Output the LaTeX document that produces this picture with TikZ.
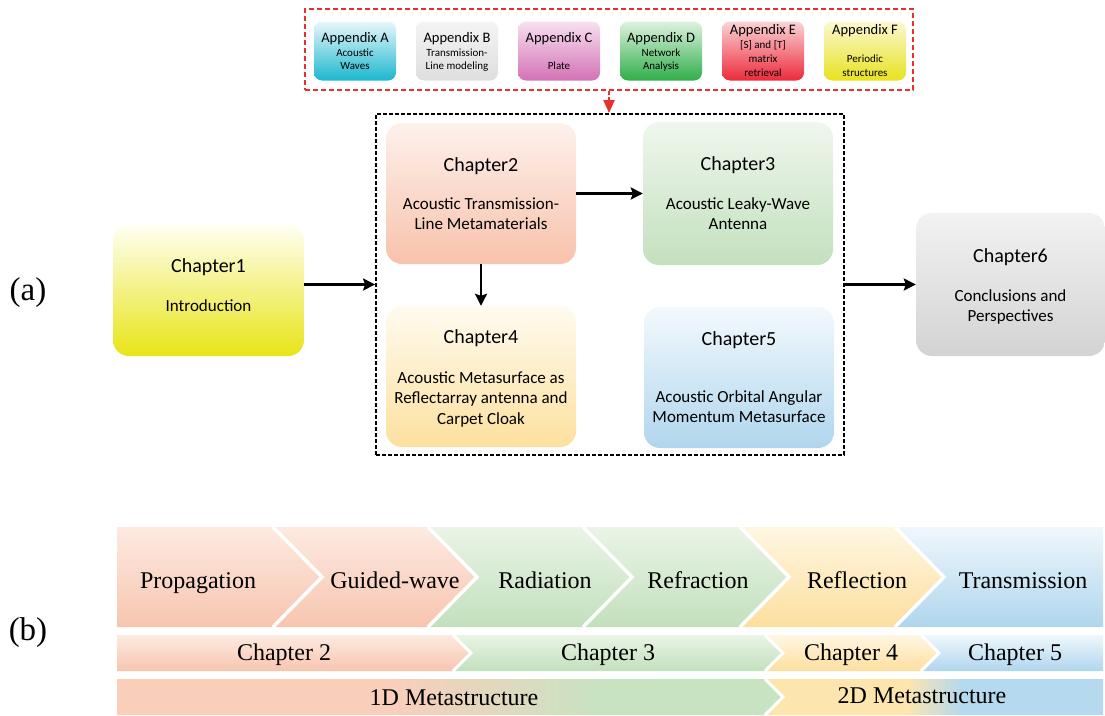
\documentclass[tikz,border=0pt]{standalone}
\usepackage{fontspec}
\setmainfont{Carlito}
\newfontfamily\tnr{Liberation Serif}
\usetikzlibrary{arrows.meta}
% part (a) colours
\definecolor{cAt}{HTML}{FFFFF2}\definecolor{cAb}{HTML}{E8E416}
\definecolor{cBt}{HTML}{FDF1EC}\definecolor{cBb}{HTML}{F8C2AB}
\definecolor{cCt}{HTML}{EFF7EE}\definecolor{cCb}{HTML}{C3E0BD}
\definecolor{cDt}{HTML}{FFFBF0}\definecolor{cDb}{HTML}{FDE09E}
\definecolor{cEt}{HTML}{F3F9FD}\definecolor{cEb}{HTML}{B0D6ED}
\definecolor{cFt}{HTML}{F2F2F2}\definecolor{cFb}{HTML}{D3D3D3}
% appendix colours
\definecolor{aAt}{HTML}{E8F7FA}\definecolor{aAb}{HTML}{1BB7CF}
\definecolor{aBt}{HTML}{F4F4F4}\definecolor{aBb}{HTML}{DEDEDE}
\definecolor{aCt}{HTML}{F7E0EF}\definecolor{aCb}{HTML}{D471B6}
\definecolor{aDt}{HTML}{DDF2DF}\definecolor{aDb}{HTML}{2FAE48}
\definecolor{aEt}{HTML}{FAD3D6}\definecolor{aEb}{HTML}{ED2A3A}
\definecolor{aFt}{HTML}{FBF8D3}\definecolor{aFb}{HTML}{E8E21E}
\definecolor{redd}{HTML}{E8302E}
% part (b) colours
\definecolor{salT}{HTML}{FDEAE1}\definecolor{salB}{HTML}{F7C5AF}
\definecolor{grnT}{HTML}{EAF4E7}\definecolor{grnB}{HTML}{C2E0BC}
\definecolor{yelT}{HTML}{FFF6E3}\definecolor{yelB}{HTML}{FCDF9E}
\definecolor{bluT}{HTML}{EFF7FC}\definecolor{bluB}{HTML}{AFD6ED}
\definecolor{rsal}{HTML}{F9CEBB}\definecolor{rgrn}{HTML}{C8E3C2}
\definecolor{ryel}{HTML}{FDE5AE}\definecolor{rblu}{HTML}{B5D9EE}
\pgfdeclarehorizontalshading{oneD}{100bp}{color(0bp)=(rsal); color(46bp)=(rsal); color(61bp)=(rgrn); color(100bp)=(rgrn)}
\pgfdeclarehorizontalshading{twoD}{100bp}{color(0bp)=(ryel); color(46bp)=(ryel); color(54bp)=(rblu); color(100bp)=(rblu)}
\begin{document}
\begin{tikzpicture}[x=1pt,y=-1pt,
  chbox/.style={rounded corners=16pt, minimum width=190pt, minimum height=141pt, inner sep=0pt},
  apbox/.style={rounded corners=8pt, minimum width=82pt, minimum height=59pt, inner sep=0pt},
  ttl/.style={font=\fontsize{20}{24}\selectfont, inner sep=0pt, anchor=base},
  sub/.style={font=\fontsize{17}{20}\selectfont, inner sep=0pt, anchor=base},
  apt/.style={font=\fontsize{14.5}{17}\selectfont, inner sep=0pt, anchor=base},
  aps/.style={font=\fontsize{11}{13}\selectfont, inner sep=0pt, anchor=base},
  blab/.style={font=\tnr\fontsize{24}{28}\selectfont, inner sep=0pt, anchor=base},
  plab/.style={font=\tnr\fontsize{33}{38}\selectfont, inner sep=0pt, anchor=base},
  arr/.style={line width=2.5pt, -{Stealth[length=12pt,width=12pt,inset=2pt]}},
  sepline/.style={white, line width=3.5pt},
]
\clip (0,0) rectangle (1105,715);
\useasboundingbox (0,0) rectangle (1105,715);

% ---------- appendices ----------
\node[draw=redd, dashed, dash pattern=on 5pt off 3pt, line width=2pt, minimum width=608pt, minimum height=81pt, inner sep=0pt] (app) at (609,49.5) {};
\node[apbox, top color=aAt, bottom color=aAb] (apA) at (355,51) {};
\node[apbox, top color=aBt, bottom color=aBb] (apB) at (457,51) {};
\node[apbox, top color=aCt, bottom color=aCb] (apC) at (559,51) {};
\node[apbox, top color=aDt, bottom color=aDb] (apD) at (661,51) {};
\node[apbox, top color=aEt, bottom color=aEb] (apE) at (763,51) {};
\node[apbox, top color=aFt, bottom color=aFb] (apF) at (865,51) {};
\node[apt] (tA) at (355,42) {Appendix A};
\node[aps] (sA1) at (355,56) {Acoustic};
\node[aps] (sA2) at (355,69.5) {Waves};
\node[apt] (tB) at (457,42) {Appendix B};
\node[aps] (sB1) at (457,56) {Transmission-};
\node[aps] (sB2) at (457,69.5) {Line modeling};
\node[apt] (tC) at (559,42) {Appendix C};
\node[aps] (sC1) at (559,69.5) {Plate};
\node[apt] (tD) at (661,42) {Appendix D};
\node[aps] (sD1) at (661,56) {Network};
\node[aps] (sD2) at (661,69.5) {Analysis};
\node[apt] (tE) at (763,34) {Appendix E};
\node[aps] (sE1) at (763,48.5) {[S] and [T]};
\node[aps] (sE2) at (763,62.5) {matrix};
\node[aps] (sE3) at (763,76) {retrieval};
\node[apt] (tF) at (865,34) {Appendix F};
\node[aps] (sF1) at (865,62.5) {Periodic};
\node[aps] (sF2) at (865,76) {structures};

% ---------- chapters ----------
\node[draw, dashed, dash pattern=on 4pt off 2pt, line width=1.8pt, minimum width=468pt, minimum height=341pt, inner sep=0pt] (grp) at (610,284.5) {};
\draw[redd, line width=2pt, dash pattern=on 4pt off 2pt, -{Triangle[length=13pt,width=11pt]}] (app.south) -- (app.south |- grp.north);

\node[chbox, minimum width=191pt, minimum height=131pt, top color=cAt, bottom color=cAb] (ch1) at (208.5,290.5) {};
\node[chbox, top color=cBt, bottom color=cBb] (ch2) at (481,193.5) {};
\node[chbox, minimum height=143pt, top color=cCt, bottom color=cCb] (ch3) at (738,193.5) {};
\node[chbox, top color=cDt, bottom color=cDb] (ch4) at (481,376.5) {};
\node[chbox, top color=cEt, bottom color=cEb] (ch5) at (739,377.5) {};
\node[chbox, minimum width=189pt, minimum height=143pt, top color=cFt, bottom color=cFb] (ch6) at (1010.5,284.5) {};

\node[ttl] (t1) at (208.5,272) {Chapter1};
\node[sub] (s11) at (208.5,311) {Introduction};
\node[ttl] (t2) at (481,171) {Chapter2};
\node[sub] (s21) at (481,209) {Acoustic Transmission-};
\node[sub] (s22) at (481,229.5) {Line Metamaterials};
\node[ttl] (t3) at (738,170) {Chapter3};
\node[sub] (s31) at (738,209) {Acoustic Leaky-Wave};
\node[sub] (s32) at (738,229.5) {Antenna};
\node[ttl] (t4) at (481,343) {Chapter4};
\node[sub] (s41) at (481,383) {Acoustic Metasurface as};
\node[sub] (s42) at (481,403.5) {Reflectarray antenna and};
\node[sub] (s43) at (481,424) {Carpet Cloak};
\node[ttl] (t5) at (739,345) {Chapter5};
\node[sub] (s51) at (739,402) {Acoustic Orbital Angular};
\node[sub] (s52) at (739,422.5) {Momentum Metasurface};
\node[ttl] (t6) at (1010.5,262) {Chapter6};
\node[sub] (s61) at (1010.5,301) {Conclusions and};
\node[sub] (s62) at (1010.5,321.5) {Perspectives};

\draw[arr] (grp.west -| ch1.east) -- (grp.west);
\draw[arr] (ch2.east) -- (ch2.east -| ch3.west);
\draw[arr] (ch2.south) -- (ch4.north);
\draw[arr] (grp.east) -- (grp.east -| ch6.west);

\node[plab] (la) at (28,300) {(a)};
\node[plab] (lb) at (28,640) {(b)};

% ---------- part (b) row 1 ----------
\shade[top color=salT, bottom color=salB] (117,527)--(273,527)--(322,577)--(273,627)--(117,627)--cycle;
\shade[top color=salT, bottom color=salB] (273,527)--(428,527)--(477,577)--(428,627)--(273,627)--(322,577)--cycle;
\shade[top color=grnT, bottom color=grnB] (428,527)--(583,527)--(632,577)--(583,627)--(428,627)--(477,577)--cycle;
\shade[top color=grnT, bottom color=grnB] (583,527)--(740,527)--(789,577)--(740,627)--(583,627)--(632,577)--cycle;
\shade[top color=yelT, bottom color=yelB] (740,527)--(895,527)--(944,577)--(895,627)--(740,627)--(789,577)--cycle;
\shade[top color=bluT, bottom color=bluB] (895,527)--(1103,527)--(1103,627)--(895,627)--(944,577)--cycle;
\draw[sepline] (273,527)--(322,577)--(273,627);
\draw[sepline] (428,527)--(477,577)--(428,627);
\draw[sepline] (583,527)--(632,577)--(583,627);
\draw[sepline] (740,527)--(789,577)--(740,627);
\draw[sepline] (895,527)--(944,577)--(895,627);
\node[blab] (r11) at (198,588) {Propagation};
\node[blab] (r12) at (395,588) {Guided-wave};
\node[blab] (r13) at (545,588) {Radiation};
\node[blab] (r14) at (698,588) {Refraction};
\node[blab] (r15) at (857,588) {Reflection};
\node[blab] (r16) at (1023,588) {Transmission};

% ---------- row 2 ----------
\shade[top color=salT, bottom color=salB] (117,635)--(453,635)--(471,653)--(453,671)--(117,671)--cycle;
\shade[top color=grnT, bottom color=grnB] (453,635)--(765,635)--(783,653)--(765,671)--(453,671)--(471,653)--cycle;
\shade[top color=yelT, bottom color=yelB] (765,635)--(921,635)--(939,653)--(921,671)--(765,671)--(783,653)--cycle;
\shade[top color=bluT, bottom color=bluB] (921,635)--(1103,635)--(1103,671)--(921,671)--(939,653)--cycle;
\draw[sepline, line width=3pt] (453,635)--(471,653)--(453,671);
\draw[sepline, line width=3pt] (765,635)--(783,653)--(765,671);
\draw[sepline, line width=3pt] (921,635)--(939,653)--(921,671);
\node[blab] (r21) at (284,660) {Chapter 2};
\node[blab] (r22) at (608,660) {Chapter 3};
\node[blab] (r23) at (851,660) {Chapter 4};
\node[blab] (r24) at (1015,660) {Chapter 5};

% ---------- row 3 ----------
\shade[shading=oneD] (117,679)--(765,679)--(783,697)--(765,715)--(117,715)--cycle;
\shade[shading=twoD] (765,679)--(1103,679)--(1103,715)--(765,715)--(783,697)--cycle;
\draw[sepline, line width=3pt] (765,679)--(783,697)--(765,715);
\node[blab] (r31) at (454,705) {1D Metastructure};
\node[blab] (r32) at (922,703) {2D Metastructure};
\end{tikzpicture}
\end{document}
